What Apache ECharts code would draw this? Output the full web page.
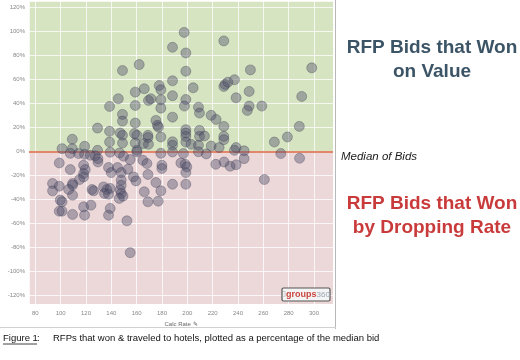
<!DOCTYPE html>
<html><head><meta charset="utf-8">
<script src="https://cdn.jsdelivr.net/npm/echarts@6/dist/echarts.min.js"></script>
<style>html,body{margin:0;padding:0;background:#fff}#c{width:520px;height:360px}</style>
</head><body><div id="c"></div>
<script>
// Calc Rate (x) of each winning RFP bid
const calcRate = [
197.5,188.3,198.8,228.8,162,148.8,198.8,249.8,298.2,188.3,
228.8,229.8,232,237.2,166,158.9,177.8,179.1,204.6,188.3,
248.8,238.5,290.3,145.5,169.3,171.2,179.1,198.8,138.6,158.9,
179.1,197.7,208.8,209.6,248.8,247.4,258.8,148.8,188.3,218.8,
222.7,148.8,158.9,175.2,176.4,177.2,129.1,228.8,288.4,198.8,
198.8,198.8,209.6,209.6,213.5,138.6,147,148.8,158.3,160.2,
168.9,168.9,179.1,228.8,228.8,279,109.2,138.6,148.8,158.9,
165.4,169.3,188.3,188.3,198.8,203,208.8,218.8,225.1,238.5,
268.7,101.1,109.2,118.9,129.1,160.2,237.2,244.8,188.3,196.9,
208.8,214.9,273.8,179.1,139.1,107.6,114.1,118.9,123.4,127.3,
129.4,129.4,146.5,149.6,154.9,160.2,164.9,168.1,288.6,244.8,
194.9,198.3,199.6,198.8,179.9,179.9,222.5,229,233.8,238.5,
260.8,188.3,198.8,98.9,107.6,118.1,119.4,118.1,118.1,114.9,
109.4,109.4,93.6,98.9,93.6,106.3,109.4,124.7,126,137.8,
139.9,144.9,147.8,153.1,157.5,159.4,168.9,175.2,179.1,166,
133.9,136.5,139.1,134.6,137.8,147.8,147.8,147,147.8,149.2,
146.2,168.9,177,99.7,101.1,98.9,101.1,109.4,118.1,123.9,
118.9,139.1,137.8,152.3,154.9
];
// % Difference from the median Calc Rate
const pctDiff = [
98.9,86.5,81.8,91.8,72.1,67.2,66.6,67.7,69.4,58.6,
53.9,55.6,57.5,59.5,52,49.2,54.7,51.2,52.8,46.2,
49.8,44.5,45.6,43.7,42.3,43.7,42.9,43.1,37.3,38.1,
35.9,37.6,36.7,31.8,37.6,34,37.6,30.7,28.4,29.9,
26.5,25.1,23.5,25.7,21.6,20.1,19.3,20.7,20.7,18,
15.2,12.4,17.4,12.4,12.7,16.6,15.2,13.3,14.7,13.3,
13.3,11.4,11.9,12.4,9.7,11.9,10,7.7,6.9,6.9,
6.4,5.8,7.9,5,7.7,5.8,5,4.4,3.1,3.1,
7.7,2.2,2.2,4.1,0.8,0.8,0.8,0.4,-0.6,-1.9,
-0.4,-2.2,-1.9,-1.7,-0.8,-1.7,-1.9,-2.5,-3.3,-3.7,
-6.1,-8.9,-1.4,-4.1,-6.9,-0.6,-7.5,-10.2,-5.8,-6.1,
-9.7,-10.8,-13,-17.7,-11.6,-14.3,-10.8,-8.9,-12.4,-11.2,
-23.5,-27.4,-27.4,-9.7,-15.2,-11.6,-15.2,-18.5,-21.3,-23.5,
-26.8,-28.2,-26.8,-29,-32.9,-31.8,-36.5,-31.8,-32.9,-13.5,
-17.7,-13.5,-17.7,-14.9,-21.3,-24.6,-19.3,-26,-32.9,-33.7,
-29.6,-31.8,-30.9,-35.1,-35.7,-24,-28.2,-32.3,-35.1,-37.3,
-39.2,-42,-41.5,-40.6,-42,-49.8,-49.8,-52.5,-46.2,-44.8,
-53.1,-47.5,-53.1,-57.8,-84.3
];
const xTicks = [80,100,120,140,160,180,200,220,240,260,280,300];
const yTicks = [-120,-100,-80,-60,-40,-20,0,20,40,60,80,100,120];
const medianOfBids = 0;
const xRange = [75, 315];
const yRange = [-127, 125];

const points = calcRate.map((x, i) => [x, pctDiff[i]]);
const chart = echarts.init(document.getElementById('c'));
const font = 'Liberation Sans, Arial, sans-serif';
chart.setOption({
  animation: false,
  grid: { left: 29, top: 1, width: 304, height: 303, containLabel: false, outerBoundsMode: 'none' },
  xAxis: {
    type: 'value', min: xRange[0], max: xRange[1], splitNumber: 12, minInterval: 20, maxInterval: 20,
    name: 'Calc Rate ✎', nameLocation: 'middle', nameGap: 14,
    nameTextStyle: { fontSize: 6, color: '#666', fontFamily: font },
    axisLine: { show: false }, axisTick: { show: false },
    axisLabel: { fontSize: 6, color: '#888', margin: 6, fontFamily: font,
      formatter: v => xTicks.includes(Math.round(v * 100) / 100) ? String(v) : '' },
    splitLine: { show: true, lineStyle: { color: 'rgba(255,255,255,0.75)', width: 1 } }
  },
  yAxis: {
    type: 'value', min: yRange[0], max: yRange[1], splitNumber: 12, minInterval: 20, maxInterval: 20,
    name: '% Difference in Median Calc Rate ✎', nameLocation: 'middle', nameGap: 21, nameRotate: 90,
    nameTextStyle: { fontSize: 6, color: '#666', fontFamily: font },
    axisLine: { show: false }, axisTick: { show: false },
    axisLabel: { fontSize: 6, color: '#888', margin: 4, fontFamily: font,
      formatter: v => yTicks.includes(Math.round(v * 100) / 100) ? v + '%' : '' },
    splitLine: { show: true, lineStyle: { color: 'rgba(255,255,255,0.75)', width: 1 } }
  },
  series: [
    {
      type: 'scatter', data: [], z: -1, silent: true,
      markArea: {
        silent: true, z: -1,
        data: [
          [{ yAxis: medianOfBids, itemStyle: { color: '#d6e4c1' } }, { yAxis: yRange[1] }],
          [{ yAxis: yRange[0], itemStyle: { color: '#ecd8d9' } }, { yAxis: medianOfBids }]
        ]
      }
    },
    {
      type: 'scatter', data: points, symbolSize: 10, z: 3,
      itemStyle: { color: 'rgba(78,78,104,0.52)', borderColor: 'rgba(55,55,80,0.5)', borderWidth: 0.8 },
      markLine: {
        silent: true, symbol: 'none', label: { show: false }, z: 2,
        lineStyle: { color: '#e3866c', width: 2, type: 'solid' },
        data: [{ yAxis: medianOfBids }]
      }
    }
  ],
  graphic: [
    { type: 'line', z: 100, shape: { x1: 335.5, y1: 0, x2: 335.5, y2: 329 }, style: { stroke: '#b8b8b8', lineWidth: 1 } },
    { type: 'line', z: 100, shape: { x1: 0, y1: 327.5, x2: 336, y2: 327.5 }, style: { stroke: '#d0d0d0', lineWidth: 1 } },
    { type: 'text', z: 100, left: 3, top: 333, style: { text: 'Figure 1', font: '9.5px ' + font, fill: '#111' } },
    { type: 'line', z: 100, shape: { x1: 3, y1: 344, x2: 37, y2: 344 }, style: { stroke: '#111', lineWidth: 0.8 } },
    { type: 'text', z: 100, left: 37, top: 333, style: { text: ':', font: '9.5px ' + font, fill: '#111' } },
    { type: 'text', z: 100, left: 53, top: 333, style: { text: 'RFPs that won & traveled to hotels, plotted as a percentage of the median bid', font: '9.5px ' + font, fill: '#111' } },
    { type: 'text', z: 100, x: 432, y: 48, style: { text: 'RFP Bids that Won', font: 'bold 19px ' + font, fill: '#3b5466', textAlign: 'center', textVerticalAlign: 'middle' } },
    { type: 'text', z: 100, x: 432, y: 72, style: { text: 'on Value', font: 'bold 19px ' + font, fill: '#3b5466', textAlign: 'center', textVerticalAlign: 'middle' } },
    { type: 'text', z: 100, x: 341, y: 157, style: { text: 'Median of Bids', font: 'italic 11.5px ' + font, fill: '#1a1a1a', textAlign: 'left', textVerticalAlign: 'middle' } },
    { type: 'text', z: 100, x: 432, y: 204, style: { text: 'RFP Bids that Won', font: 'bold 19px ' + font, fill: '#c93b3b', textAlign: 'center', textVerticalAlign: 'middle' } },
    { type: 'text', z: 100, x: 432, y: 228, style: { text: 'by Dropping Rate', font: 'bold 19px ' + font, fill: '#c93b3b', textAlign: 'center', textVerticalAlign: 'middle' } },
    { type: 'rect', z: 100, shape: { x: 282, y: 288, width: 48, height: 13, r: 1.5 }, style: { fill: '#f4f4f4', stroke: '#555', lineWidth: 1.2 } },
    { type: 'text', z: 101, x: 306, y: 294.5, style: { text: '{i|▯}{g|groups}{n|360}', textAlign: 'center', textVerticalAlign: 'middle',
      rich: { i: { fontSize: 7, fill: '#999', fontFamily: font }, g: { fontSize: 9, fontWeight: 'bold', fill: '#c9463f', fontFamily: font }, n: { fontSize: 8, fill: '#9aa6b4', fontFamily: font } } } }
  ]
});
</script></body></html>
